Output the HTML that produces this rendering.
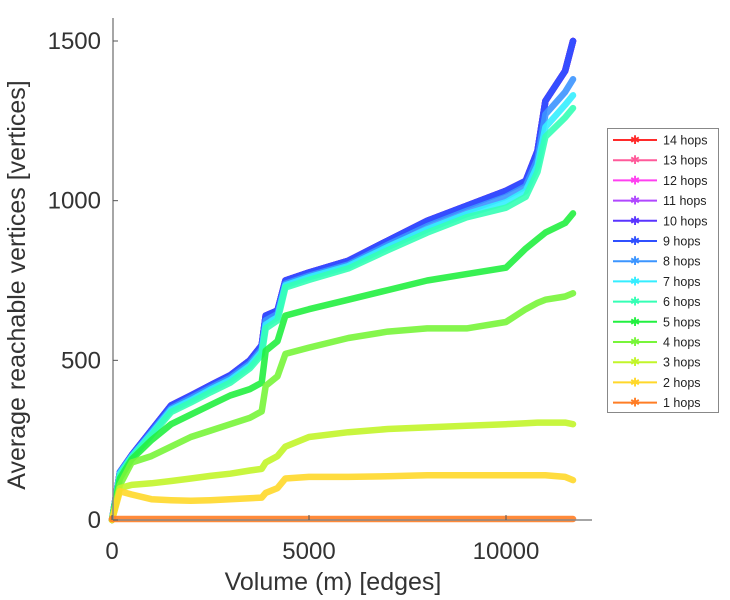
<!DOCTYPE html>
<html><head><meta charset="utf-8"><style>
body{margin:0;background:#fff;}
svg{display:block;font-family:"Liberation Sans",sans-serif;}
</style></head><body>
<svg id="chart" width="730" height="600">
<g id="series"></g>
<g id="axes"></g>
<g id="legend"></g>
</svg>
<script>
const xValues=[0,200,500,1000,1500,2000,2500,3000,3500,3800,3900,4200,4400,5000,6000,7000,8000,9000,10000,10500,10800,11000,11500,11700];
const hopsTop=[0,150,203,281,359,390,422,453,500,547,640,656,750,775,812,875,937,984,1031,1062,1156,1312,1406,1500];
const hops8=[0,150,200,275,350,382,414,445,490,535,625,645,740,765,800,862,920,968,1012,1045,1130,1270,1340,1380];
const hops7=[0,145,198,270,345,375,408,438,483,527,612,635,735,760,795,855,910,958,995,1030,1110,1230,1300,1330];
const hops6=[0,140,195,265,338,368,400,430,475,518,600,625,728,752,788,845,900,948,978,1012,1090,1200,1260,1290];
const hops5=[0,130,190,250,300,330,360,390,410,430,530,560,640,660,690,720,750,770,790,850,880,900,930,960];
const hops4=[0,110,180,200,230,260,280,300,320,340,420,450,520,540,570,590,600,600,620,660,680,690,700,710];
const hops3=[0,100,110,115,122,130,138,145,155,160,180,200,230,260,275,285,290,295,300,303,305,305,305,300];
const hops2=[0,90,80,65,62,60,62,65,68,70,85,100,130,135,135,137,140,140,140,140,140,140,135,125];
const hops1=[3,3,3,3,3,3,3,3,3,3,3,3,3,3,3,3,3,3,3,3,3,3,3,3];
const seriesLabels=["14 hops","13 hops","12 hops","11 hops","10 hops","9 hops","8 hops","7 hops","6 hops","5 hops","4 hops","3 hops","2 hops","1 hops"];
const seriesValues=[hopsTop,hopsTop,hopsTop,hopsTop,hopsTop,hopsTop,hops8,hops7,hops6,hops5,hops4,hops3,hops2,hops1];
const seriesColors=["#ff2a2a","#ff5a9a","#ff40f0","#b048ff","#5a35ff","#3050ff","#3c95ff","#35eeff","#35ffb5","#22f040","#78f53a","#c2f52a","#ffd82a","#ff7d25"];
const xTicks=[0,5000,10000];
const yTicks=[0,500,1000,1500];

const NS="http://www.w3.org/2000/svg";
function xS(v){return 112+v*0.0394;}
function yS(v){return 520-v*(479/1500);}
function mk(tag,attrs,parent){const e=document.createElementNS(NS,tag);for(const k in attrs)e.setAttribute(k,attrs[k]);parent.appendChild(e);return e;}
const sg=document.getElementById('series');
for(let i=0;i<seriesValues.length;i++){
  const pts=seriesValues[i].map((v,j)=>xS(xValues[j]).toFixed(1)+","+yS(v).toFixed(1)).join(" ");
  const pl=mk('polyline',{points:pts,fill:'none',stroke:seriesColors[i],'stroke-width':6.5,'stroke-linejoin':'round','stroke-linecap':'round','stroke-opacity':0.9},sg);
  
  
}
const ax=document.getElementById('axes');
let a=mk('line',{x1:113,y1:18,x2:113,y2:520,stroke:'#888','stroke-width':1.5},ax);


a=mk('line',{x1:113,y1:520,x2:592,y2:520,stroke:'#888','stroke-width':1.5},ax);


yTicks.forEach(t=>{
  mk('line',{x1:113,y1:yS(t),x2:118,y2:yS(t),stroke:'#555'},ax);
  const tx=mk('text',{x:101,y:yS(t)+8,'text-anchor':'end','font-size':24,fill:'#333'},ax);
  tx.textContent=t;
  
  
});
xTicks.forEach(t=>{
  mk('line',{x1:xS(t),y1:520,x2:xS(t),y2:515,stroke:'#555'},ax);
  const tx=mk('text',{x:xS(t),y:559,'text-anchor':'middle','font-size':24,fill:'#333'},ax);
  tx.textContent=t;
  
  
});
let tt=mk('text',{x:333,y:590,'text-anchor':'middle','font-size':25,fill:'#333'},ax);
tt.textContent='Volume (m) [edges]';


tt=mk('text',{x:0,y:0,'text-anchor':'middle','font-size':25,fill:'#333',transform:'translate(25,285) rotate(-90)'},ax);
tt.textContent='Average reachable vertices [vertices]';


const lg=document.getElementById('legend');
let box=mk('rect',{x:607.5,y:128.5,width:111,height:284,fill:'#fff',stroke:'#888'},lg);


seriesLabels.forEach((l,i)=>{
  const y=140+i*20.2;
  const g=mk('g',{},lg);
  
  
  mk('line',{x1:613,y1:y,x2:657,y2:y,stroke:seriesColors[i],'stroke-width':2},g);
  const s=mk('text',{x:635,y:y+4,'text-anchor':'middle','font-size':12,fill:seriesColors[i]},g);
  s.textContent='✱';
  const t=mk('text',{x:663,y:y+4.5,'font-size':12.5,fill:'#222'},g);
  t.textContent=l;
});
</script>
</body></html>
